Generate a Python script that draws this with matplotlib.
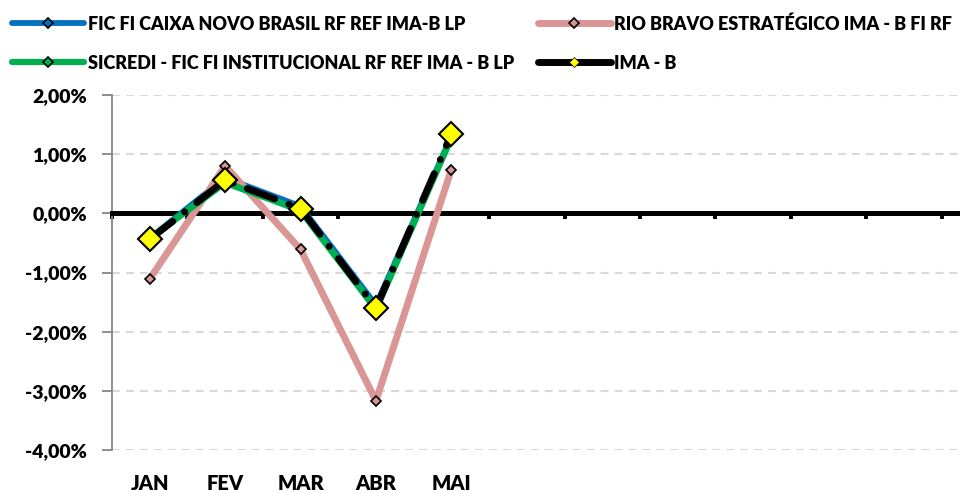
import numpy as np
import matplotlib
matplotlib.use("Agg")
import matplotlib.pyplot as plt
from matplotlib.lines import Line2D
from matplotlib.ticker import FuncFormatter

plt.rcParams['font.family'] = ['Lato', 'DejaVu Sans']
plt.rcParams['font.weight'] = 'heavy'

# Data (monthly returns, %)
months = ["JAN", "FEV", "MAR", "ABR", "MAI", "", "", "", "", "", "", ""]
caixa = [-0.42, 0.60, 0.12, -1.55, 1.30]
rio_bravo = [-1.11, 0.80, -0.61, -3.17, 0.74]
sicredi = [-0.42, 0.52, 0.05, -1.62, 1.28]
ima_b = [-0.44, 0.56, 0.08, -1.60, 1.34]

names = ["FIC FI CAIXA NOVO BRASIL RF REF IMA-B LP",
         "RIO BRAVO ESTRATÉGICO IMA - B FI RF",
         "SICREDI - FIC FI INSTITUCIONAL RF REF IMA - B LP",
         "IMA - B"]

BLUE = "#0070C0"
PINK = "#D99694"
GREEN = "#00B050"

W, H = 960, 493
fig = plt.figure(figsize=(W / 100, H / 100), dpi=100)
ax = fig.add_axes([112 / W, (H - 450) / H, 905 / W, 355 / H])

x = np.arange(len(caixa))

# -------------------------------
# Series
# -------------------------------
ax.plot(x, caixa, color=BLUE, lw=4.2, marker="D", ms=5, mfc=BLUE, mec="black", mew=1.2,
        solid_capstyle="round", zorder=3)
ax.plot(x, rio_bravo, color=PINK, lw=5, marker="D", ms=5.5, mfc=PINK, mec="black", mew=1.2,
        solid_capstyle="round", zorder=4)
ax.plot(x, sicredi, color=GREEN, lw=4.8, marker="D", ms=5, mfc=GREEN, mec="black", mew=1.2,
        solid_capstyle="round", zorder=5)
ax.plot(x, ima_b, color="black", lw=5, linestyle=(0, (4.2, 2.2, 0.01, 2.2)),
        dash_capstyle="round", marker="D", ms=12, mfc="#FFFF00", mec="black", mew=1.5, zorder=6)

# -------------------------------
# Axes styling
# -------------------------------
ax.set_xlim(-0.5, len(months) - 0.5)
ax.set_ylim(-4, 2)

ax.spines["top"].set_visible(False)
ax.spines["right"].set_visible(False)
ax.spines["left"].set_color("#868686")
ax.spines["left"].set_linewidth(1.3)
ax.spines["bottom"].set_position(("data", 0))
ax.spines["bottom"].set_linewidth(3.6)
ax.spines["bottom"].set_zorder(2.5)

ax.set_xticks(np.arange(-0.5, len(months), 1))
ax.tick_params(axis="x", direction="out", length=4, width=2.8, color="black", labelbottom=False)

ax.set_yticks(np.arange(-4, 3, 1))
ax.yaxis.set_major_formatter(FuncFormatter(lambda v, p: f"{v:.2f}%".replace(".", ",")))
ax.tick_params(axis="y", direction="out", length=7, width=1.3, color="#868686",
               labelsize=14, pad=11)

ax.set_axisbelow(True)
ax.yaxis.grid(True, color="#D9D9D9", linestyle=(0, (3.8, 2.9)), linewidth=1.5)

for i, m in enumerate(months):
    ax.text(i, -0.093, m, transform=ax.get_xaxis_transform(), ha="center", va="center",
            fontsize=14.5)

# -------------------------------
# Legend
# -------------------------------
handles = [
    Line2D([], [], color=BLUE, lw=4.2, marker="D", ms=5, mfc=BLUE, mec="black", mew=1.2,
           solid_capstyle="round"),
    Line2D([], [], color=GREEN, lw=4.5, marker="D", ms=5, mfc=GREEN, mec="black", mew=1.2,
           solid_capstyle="round"),
    Line2D([], [], color=PINK, lw=5, marker="D", ms=5, mfc=PINK, mec="black", mew=1.2,
           solid_capstyle="round"),
    Line2D([], [], color="black", lw=5, marker="D", ms=5, mfc="#FFFF00", mec="black", mew=0.5,
           solid_capstyle="round"),
]
labels = [names[0], names[2], names[1], names[3]]
fig.legend(handles, labels, ncol=2, loc="upper left", bbox_to_anchor=(12 / W, 1 - 15 / H),
           frameon=False, fontsize=13, handlelength=4.0, handletextpad=0.2,
           columnspacing=1.35, labelspacing=1.23, borderpad=0, borderaxespad=0)

fig.savefig("out.png", dpi=100)
